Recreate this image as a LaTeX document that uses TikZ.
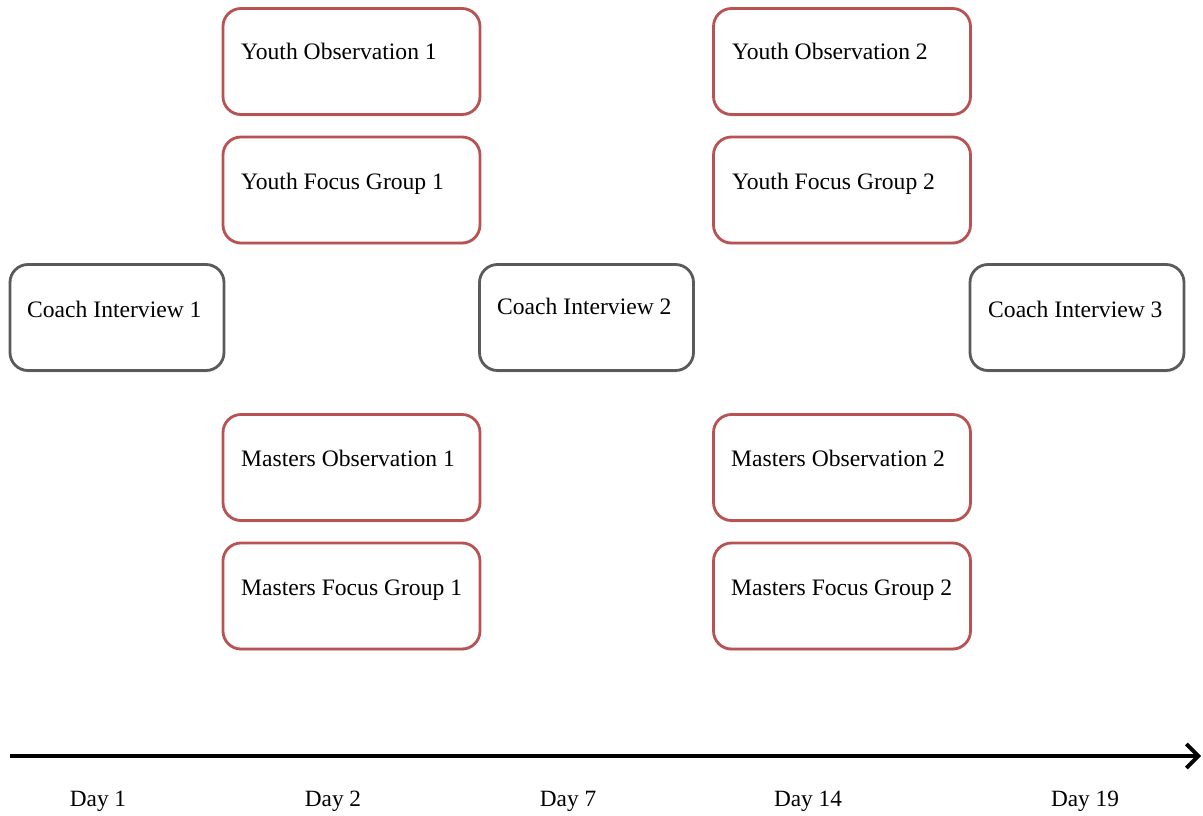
\documentclass[tikz,border=0pt]{standalone}
\usepackage{fontspec}
\setmainfont{Liberation Serif}
\usetikzlibrary{arrows.meta,shadows}
\definecolor{boxred}{RGB}{185,82,82}
\definecolor{boxgray}{RGB}{90,90,90}
\begin{document}
\begin{tikzpicture}[x=1pt,y=-1pt,
  redbox/.style={draw=boxred, line width=2.8pt, rounded corners=18pt, fill=white,
    minimum width=257pt, minimum height=106pt, inner sep=0pt,
    drop shadow={opacity=0.15, shadow xshift=0pt, shadow yshift=-2pt}},
  graybox/.style={draw=boxgray, line width=2.8pt, rounded corners=18pt, fill=white,
    minimum width=214pt, minimum height=106pt, inner sep=0pt,
    drop shadow={opacity=0.15, shadow xshift=0pt, shadow yshift=-2pt}},
  boxtext/.style={anchor=base west, inner sep=0pt, font=\fontsize{23.6}{27}\selectfont},
  daytext/.style={anchor=base, inner sep=0pt, font=\fontsize{23.3}{27}\selectfont}
]
\useasboundingbox (0,0) rectangle (1203,816);
% red boxes column 1
\node[redbox] (yo1) at (351.5,61.5) {};
\node[boxtext] (tyo1) at (241,60) {Youth Observation 1};
\node[redbox] (yf1) at (351.5,190) {};
\node[boxtext] (tyf1) at (241,189) {Youth Focus Group 1};
\node[redbox] (mo1) at (351.5,467.5) {};
\node[boxtext] (tmo1) at (241,466) {Masters Observation 1};
\node[redbox] (mf1) at (351.5,596) {};
\node[boxtext] (tmf1) at (241,595) {Masters Focus Group 1};
% red boxes column 2
\node[redbox] (yo2) at (842,61.5) {};
\node[boxtext] (tyo2) at (732,60) {Youth Observation 2};
\node[redbox] (yf2) at (842,190) {};
\node[boxtext] (tyf2) at (732,189) {Youth Focus Group 2};
\node[redbox] (mo2) at (842,467.5) {};
\node[boxtext] (tmo2) at (731,466) {Masters Observation 2};
\node[redbox] (mf2) at (842,596) {};
\node[boxtext] (tmf2) at (731,595) {Masters Focus Group 2};
% coach boxes
\node[graybox] (c1) at (117,317.5) {};
\node[boxtext] (tc1) at (27,317) {Coach Interview 1};
\node[graybox] (c2) at (586.5,317.5) {};
\node[boxtext] (tc2) at (497,314) {Coach Interview 2};
\node[graybox] (c3) at (1077,317.5) {};
\node[boxtext] (tc3) at (988,317) {Coach Interview 3};
% timeline
\coordinate (tl0) at (10,756);
\coordinate (tl1) at (1201,756);
\draw[line width=3.8pt, -{Straight Barb[length=12pt,width=24pt,line width=3.8pt]}] (tl0) -- (tl1);
\node[daytext] (d1) at (98,806) {Day 1};
\node[daytext] (d2) at (333,806) {Day 2};
\node[daytext] (d7) at (568,806) {Day 7};
\node[daytext] (d14) at (808,806) {Day 14};
\node[daytext] (d19) at (1085,806) {Day 19};
\end{tikzpicture}
\end{document}
